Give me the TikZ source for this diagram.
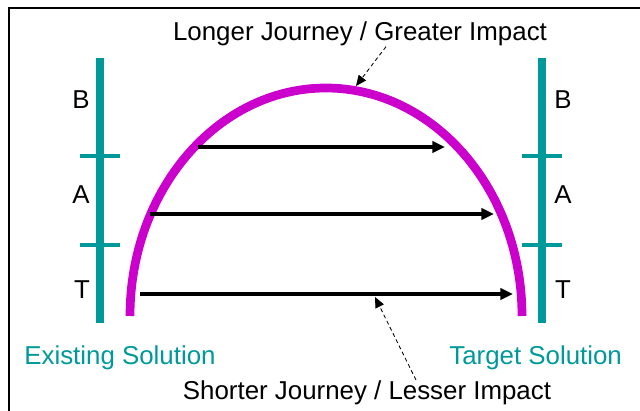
\documentclass[tikz,border=0pt]{standalone}
\usepackage{fontspec}
\setmainfont{Liberation Sans}
\usetikzlibrary{arrows.meta}
\definecolor{bar-teal}{HTML}{009999}
\definecolor{arc-magenta}{HTML}{CC00CC}
\tikzset{
    scale-bar/.style = {draw=bar-teal, line width=5pt},
    scale-tick/.style = {draw=bar-teal, line width=2.2pt},
    scale-letter/.style = {anchor=base, inner sep=0pt, font=\fontsize{18.4}{22}\selectfont},
    solution-label/.style = {anchor=base, inner sep=0pt, text=bar-teal, font=\fontsize{18.4}{22}\selectfont},
    impact-label/.style = {anchor=base, inner sep=0pt, font=\fontsize{18.4}{22}\selectfont},
    journey-arc/.style = {draw=arc-magenta, line width=6.2pt},
    journey/.style = {draw, line width=2.5pt, -{Triangle[length=9pt, width=8pt]}},
    pointer/.style = {draw, line width=0.6pt, dash pattern=on 2.8pt off 2.1pt, -{Triangle[length=7.5pt, width=6.5pt]}},
}

\begin{document}
\begin{tikzpicture}
\useasboundingbox (0,0) rectangle (16,10.25);
\clip (0,0) rectangle (16,10.25);
\draw[line width=1.2pt] (0.225,10.05) rectangle (16.6,-0.6);

% the two B-A-T scales
\draw[scale-bar] (2.5,2.175) -- (2.5,8.8);
\draw[scale-bar] (13.55,2.175) -- (13.55,8.8);
\foreach \y in {4.125,6.35} {
    \draw[scale-tick] (2,\y) -- (3,\y);
    \draw[scale-tick] (13.05,\y) -- (14.05,\y);
}
\node[scale-letter] (left-b) at (2.025,7.525) {B};
\node[scale-letter] (left-a) at (2.025,5.15) {A};
\node[scale-letter] (left-t) at (2.05,2.775) {T};
\node[scale-letter] (right-b) at (14.075,7.525) {B};
\node[scale-letter] (right-a) at (14.075,5.15) {A};
\node[scale-letter] (right-t) at (14.075,2.775) {T};

\node[solution-label] (existing) at (3.0,1.15) {Existing Solution};
\node[solution-label] (target) at (13.39,1.15) {Target Solution};

% long way round
\draw[journey-arc] (3.25,2.35) arc[start angle=180, end angle=0, x radius=4.9, y radius=5.7];

% journeys
\coordinate (b-start) at (4.95,6.575);
\coordinate (b-end) at (11.125,6.575);
\coordinate (a-start) at (3.75,4.9);
\coordinate (a-end) at (12.35,4.9);
\coordinate (t-start) at (3.5,2.9);
\coordinate (t-end) at (12.825,2.9);
\draw[journey] (b-start) -- (b-end);
\draw[journey] (a-start) -- (a-end);
\draw[journey] (t-start) -- (t-end);

\node[impact-label] (longer) at (9.0,9.225) {Longer Journey / Greater Impact};
\node[impact-label] (shorter) at (9.175,0.275) {Shorter Journey / Lesser Impact};
\coordinate (arc-hit) at (8.9,8.1);
\coordinate (short-hit) at (9.375,2.825);
\draw[pointer] ([xshift=0.65cm]longer.south) -- (arc-hit);
\draw[pointer] ([xshift=1.225cm]shorter.north) -- (short-hit);
\end{tikzpicture}
\end{document}
